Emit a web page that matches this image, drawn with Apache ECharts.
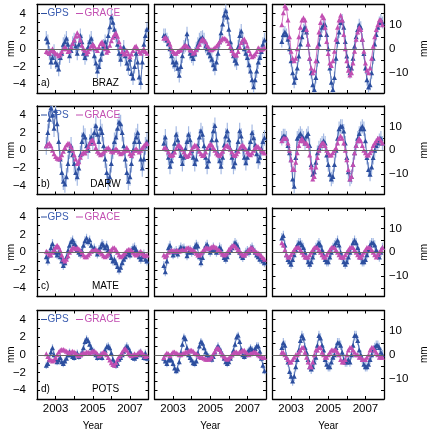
<!DOCTYPE html>
<html>
<head>
<meta charset="utf-8">
<script src="https://cdn.jsdelivr.net/npm/echarts@6/dist/echarts.min.js"></script>
<style>
  html, body { margin: 0; padding: 0; background: #fff; }
  #chart { width: 432px; height: 433px; }
</style>
</head>
<body>
<div id="chart"></div>
<script>
const stations = ["BRAZ", "DARW", "MATE", "POTS"];
const panelTags = ["a)", "b)", "c)", "d)"];
const yearTicks = [2003, 2004, 2005, 2006, 2007];
const yearLabels = [2003, 2005, 2007];
const mmTicks = [-4, -3, -2, -1, 0, 1, 2, 3, 4];
const mmLabels = [-4, -2, 0, 2, 4];
const upTicks = [-15, -10, -5, 0, 5, 10, 15];
const upLabels = [-10, 0, 10];

// monthly samples starting mid 2002, mm
const startYear = 2002.5;
const stepYear = 1 / 12;

const brazGps1 = [1.2,0.8,-0.5,-1.5,-1.0,-0.3, -1.5,-1.8,-2.3,-1.0,-0.5,0.5,0.8,1.2,0.5,-0.8,-0.2,0.6, 1.0,0.3,-0.5,0.5,1.5,0.8,-0.5,-1.0,-0.6,0.2,0.8,1.2, 0.5,-0.8,-1.6,-2.5,-2.0,-1.2,-0.5,0.3,0.8,0.2,1.5,2.5, 3.6,3.0,2.2,1.5,0.5,-0.5,-1.2,-0.5,0.2,-0.8,-1.6,-2.2, -1.2,-2.8,-3.3,-2.0,-0.5,-1.5,-3.2,-3.8,-1.5,0.5,1.5,2.2];
const brazGrace1 = [-0.3,-0.4,-0.5,-0.2,0.0,-0.3, -0.5,-0.6,-0.8,-0.6,-0.3,0.0,0.2,0.0,-0.3,-0.2,0.2,0.6, 1.0,1.4,1.8,1.5,1.0,0.4,0.0,-0.2,-0.5,-0.3,0.0,0.3, 0.5,0.3,0.0,-0.2,0.2,0.6,0.8,0.5,0.0,-0.4,-0.2,0.4, 0.9,1.3,1.6,1.8,1.4,0.8,0.2,-0.3,-0.6,-0.5,-0.2,-0.6, -0.9,-0.6,-0.2,0.2,0.3,0.0,-0.3,-0.5,-0.2,0.0,-0.3,-0.5];
const brazGps2 = [1.5,1.5,1.0,0.6,0.0,-0.8, -1.5,-1.8,-1.5,-2.2,-3.0,-2.0,-0.8,0.2,0.4,1.7,0.3,-0.5, -0.8,-1.1,-0.6,0.0,0.5,1.0,1.2,1.3,1.0,0.3,0.0,-0.4, -0.8,-1.2,-1.8,-2.2,-1.5,-0.5,0.8,1.8,2.8,3.8,4.3,3.6, 2.2,0.8,0.0,-0.8,-1.3,-1.6,0.2,1.5,2.0,1.0,0.0,-0.5, -1.0,-1.8,-2.5,-3.5,-4.3,-3.5,-2.5,-1.5,-1.0,-0.3,0.5,1.0];
const brazGrace2 = [1.2,1.3,1.2,0.9,0.5,0.0, -0.3,-0.5,-0.5,-0.3,-0.2,-0.1,0.1,0.3,0.4,0.3,0.1,-0.1, -0.2,-0.5,-0.4,-0.1,0.2,0.5,0.9,1.1,1.0,0.8,0.4,0.1, -0.1,-0.1,0.0,0.1,0.3,0.5,0.8,1.0,1.2,1.2,1.1,0.9, 0.6,0.2,-0.2,-0.5,-0.7,-0.7,-0.3,0.2,0.7,1.0,1.1,0.8, 0.3,-0.2,-0.6,-0.9,-0.8,-0.6,-0.3,0.1,0.0,-0.1,0.0,0.1];
const brazGps3 = [3,6,7,6,4,0, -5,-10,-14,-12,-8,-3,2,5,8,9,7,2, -4,-10,-15,-17,-12,-5,2,6,9,10,10,6, 0,-8,-14,-17,-12,-4,3,7,11,12,9,3, -3,-7,-10,-8,-4,1,5,8,10,9,4,-2, -8,-13,-16,-15,-10,-4,2,6,9,11,12,11];
const brazGrace3 = [10,15,18,17,12,5, -1,-4,-5,-4,0,5,9,12,13,12,8,2, -4,-8,-10,-9,-5,1,7,11,14,13,9,3, -2,-6,-7,-5,-1,4,9,12,14,12,6,0, -5,-9,-11,-10,-6,-1,4,7,9,8,4,-1, -6,-9,-10,-8,-4,1,5,8,10,12,12,10];

const darwGps1 = [0.5,2.0,3.5,4.8,4.0,2.5, 4.5,3.0,1.0,-1.0,-2.5,-3.5,-3.8,-3.0,-1.5,0.0,0.5,-0.5, -1.5,-2.5,-3.0,-2.0,-0.5,1.0,1.8,1.5,0.5,0.0,0.8,1.5, 1.0,2.0,2.8,1.8,1.0,2.5,2.0,0.5,-1.0,-2.5,-3.5,-3.0, -1.5,0.0,1.0,1.5,2.5,3.2,3.0,2.0,0.5,-1.0,-2.5,-3.5, -3.0,-1.5,0.0,1.0,1.5,2.0,1.0,-1.0,-2.0,-1.0,0.5,1.0];
const darwGrace1 = [0.5,0.7,0.8,0.5,0.0,-0.4, -0.7,-0.9,-1.0,-0.8,-0.5,-0.1,0.3,0.6,0.8,0.7,0.4,0.0, -0.5,-1.0,-1.5,-1.3,-0.8,-0.4,-0.2,-0.3,0.0,0.4,0.8,1.1, 1.2,0.8,0.3,-0.1,-0.3,-0.5,-0.4,-0.2,0.0,0.2,0.3,0.1, -0.1,-0.2,0.0,0.2,0.0,-0.2,-0.4,-0.3,-0.1,0.0,0.3,0.0, -0.4,-0.6,-0.3,0.0,0.2,0.0,-0.2,0.0,0.3,0.5,0.7,0.8];
const darwGps2 = [0.8,1.5,0.2,-0.8,-1.8,-1.2, -0.2,0.8,1.8,1.2,0.2,-0.6,-1.5,-0.8,0.2,1.0,1.8,1.2, 0.0,-0.8,-1.5,-1.0,0.5,1.5,2.2,1.8,0.5,-0.8,-1.8,-1.2, 0.2,1.2,2.2,2.8,1.2,-0.4,-1.2,-1.8,-0.8,0.6,1.6,2.2, 1.2,0.2,-0.8,-1.8,-1.4,0.0,1.0,2.2,1.6,0.2,-0.8,-1.4, -0.8,0.2,1.0,2.0,1.4,0.6,-0.4,-1.2,-0.8,0.2,1.0,1.4];
const darwGrace2 = [0.2,0.3,0.1,-0.2,-0.5,-0.6, -0.5,-0.2,0.2,0.5,0.6,0.4,0.1,-0.2,-0.5,-0.7,-0.6,-0.3, 0.1,0.4,0.6,0.5,0.2,-0.1,-0.4,-0.6,-0.5,-0.2,0.2,0.5, 0.7,0.6,0.3,0.0,-0.3,-0.5,-0.6,-0.4,-0.1,0.2,0.5,0.6, 0.4,0.1,-0.2,-0.5,-0.6,-0.4,-0.1,0.2,0.5,0.6,0.4,0.1, -0.2,-0.4,-0.5,-0.3,0.0,0.3,0.5,0.4,0.2,0.0,-0.2,-0.3];
const darwGps3 = [5,6,6,5,2,-1, -4,-12,-15,-3,5,6,7,6,5,3,6,7, 2,-6,-10,-9,-5,-1,1,2,3,4,3,-2, -6,-10,-12,-11,-6,0,5,9,10,10,8,3, -3,-9,-12,-11,-6,-1,2,5,7,9,10,9, 4,-3,-8,-10,-7,-3,0,2,3,4,5,3];
const darwGrace3 = [4,5,5,5,3,0, -4,-8,-8,-5,-1,2,4,5,4,3,3,2, -2,-7,-12,-11,-7,-3,0,2,3,3,2,0, -1,-2,-2,-1,0,1,3,5,6,5,3,0, -4,-8,-12,-11,-6,-1,2,4,5,4,2,0, -1,-2,-2,-1,0,2,3,4,5,5,4,3];

const mateGps1 = [-0.5,-1.0,-0.3,0.5,1.0,0.3, 0.0,-0.3,0.0,-0.5,-1.0,-1.5,-1.2,-0.5,0.2,0.8,1.2,1.4, 1.0,0.8,0.3,0.0,-0.2,0.2,0.8,1.3,1.6,1.2,1.4,0.8, 0.3,0.5,0.2,-0.2,0.3,0.6,1.0,0.8,0.5,0.8,0.3,-0.2, -0.6,-1.0,-0.8,-1.2,-1.6,-2.0,-1.7,-1.2,-0.8,-0.5,-0.2,0.0, -0.3,0.2,0.5,0.6,0.3,-0.2,-0.5,-0.8,-0.5,-0.2,-0.8,-1.0];
const mateGrace1 = [0.1,0.0,-0.2,-0.3,0.0,0.3, 0.6,0.8,0.6,0.2,-0.3,-0.8,-1.0,-0.8,-0.4,0.0,0.3,0.5, 0.5,0.4,0.5,0.4,0.2,0.0,-0.3,-0.5,-0.5,-0.3,-0.1,0.1, 0.2,0.2,0.3,0.2,0.1,0.0,-0.2,-0.4,-0.5,-0.4,-0.2,0.1, 0.3,0.5,0.5,0.3,0.0,-0.3,-0.5,-0.4,-0.2,0.0,0.2,0.3, 0.3,0.2,0.0,-0.2,-0.3,-0.2,0.0,0.1,-0.1,-0.3,-0.4,-0.3];
const mateGps2 = [-1.5,-2.2,-1.0,0.5,0.8,0.2, -0.3,0.0,0.2,-0.2,0.3,0.6,0.4,0.5,0.2,-0.4,0.0,0.3, 0.0,0.2,0.6,0.9,0.7,-0.5,-1.2,-0.6,0.2,0.7,0.9,0.4, 0.0,0.3,0.6,0.3,0.0,0.2,0.6,0.4,-0.2,-0.6,-0.8,-0.5, 0.0,0.3,0.5,0.8,1.1,0.9,0.6,0.0,-0.4,-0.6,-0.3,0.0, 0.2,0.0,0.4,0.6,0.3,0.0,-0.3,-0.5,-0.8,-0.6,-1.0,-1.2];
const mateGrace2 = [-0.3,-0.5,-0.3,0.0,0.1,0.2, 0.2,0.1,0.2,0.2,0.1,0.2,0.3,0.2,0.3,0.5,0.5,0.4, 0.3,0.2,0.1,-0.1,-0.3,-0.3,-0.1,0.1,0.3,0.5,0.5,0.4, 0.5,0.6,0.7,0.6,0.5,0.3,0.2,0.0,-0.2,-0.3,-0.2,0.0, 0.3,0.5,0.7,0.8,0.7,0.5,0.3,0.1,-0.1,-0.3,-0.3,-0.1, 0.1,0.3,0.5,0.5,0.3,0.1,0.0,-0.1,-0.2,-0.4,-0.6,-0.8];
const mateGps3 = [6,7,3,-1,-3,-4, -5,-3,-1,1,3,4,4,3,2,0,-2,-4, -5,-4,-2,0,2,3,4,3,1,-1,-3,-4, -4,-2,0,2,3,4,5,3,0,-2,-4,-5, -4,-2,0,2,4,5,4,2,0,-2,-4,-4, -3,-1,1,3,4,4,3,1,-1,-2,0,2];
const mateGrace3 = [4,3,1,-1,-2,-2, -1,0,1,2,2,2,1,0,-1,-2,-2,-2, -1,0,1,2,2,2,1,0,-1,-2,-2,-1, 0,1,2,2,2,1,0,-1,-2,-2,-2,-1, 0,1,2,2,2,1,0,-1,-2,-2,-1,0, 1,2,2,2,1,0,-1,-2,-1,0,1,2];

const potsGps1 = [-1.2,-1.0,-0.5,0.3,0.8,0.0, -0.5,-0.8,-0.6,-0.3,-0.8,-1.0,-0.7,-0.4,0.0,0.3,0.0,-0.2, -0.3,0.0,0.2,-0.2,0.0,0.2,0.8,1.5,1.8,1.6,1.2,0.8, 0.5,0.3,0.0,-0.3,-0.2,0.0,-0.3,0.2,0.5,0.9,1.0,0.8, 0.2,-0.5,-0.9,-1.2,-1.0,-0.5,-0.3,0.0,0.4,0.8,1.0,0.8, 0.4,0.0,-0.3,-0.4,-0.2,0.0,0.2,0.3,0.0,-0.3,0.2,-0.4];
const potsGrace1 = [0.1,-0.2,-0.5,-0.6,-0.7,-0.6, -0.3,0.0,0.3,0.5,0.6,0.6,0.5,0.4,0.3,0.2,0.3,0.4, 0.3,0.2,0.0,-0.1,0.0,0.1,0.2,0.2,0.3,0.3,0.2,0.3, 0.4,0.4,0.3,0.1,-0.1,0.0,0.2,0.3,0.2,0.0,-0.3,-0.6, -0.9,-1.1,-1.2,-0.9,-0.5,-0.2,0.0,0.3,0.6,0.7,0.5,0.2, 0.0,-0.1,0.0,0.1,0.0,0.1,0.3,0.4,0.2,0.0,-0.2,-0.1];
const potsGps2 = [-0.4,-0.7,-1.0,-0.6,-0.4,-0.6, -1.0,-1.5,-1.8,-1.6,-0.8,0.2,1.2,2.0,1.8,0.8,0.0,-0.3, -0.6,-0.9,-1.0,-0.7,0.2,1.0,1.5,1.3,0.8,0.3,0.0,-0.2, -0.4,-0.5,-0.2,0.3,0.7,1.0,0.7,0.4,0.0,-0.4,-0.8,-1.0, -0.8,-0.4,0.0,0.5,1.2,2.0,2.2,1.5,0.6,0.0,-0.2,0.0, 0.3,0.5,0.8,0.6,0.4,0.7,1.0,1.0,0.4,-0.4,-1.2,-1.8];
const potsGrace2 = [-0.3,0.0,0.2,0.1,-0.1,0.1, 0.3,0.3,0.2,0.1,0.0,0.0,0.1,0.2,0.3,0.3,0.4,0.5, 0.5,0.4,0.2,0.1,0.0,-0.2,-0.3,-0.3,-0.4,-0.5,-0.5,-0.5, -0.4,-0.2,0.1,0.4,0.7,0.8,0.6,0.3,0.0,-0.2,-0.4,-0.5, -0.4,-0.2,0.0,0.2,0.3,0.3,0.2,0.3,0.4,0.5,0.5,0.3, 0.1,0.0,0.1,0.2,0.3,0.3,0.2,0.0,-0.1,-0.2,-0.3,-0.3];
const potsGps3 = [3,5,4,-1,-3,-7, -9,-11,-9,-5,-2,2,6,8,7,3,1,-2, -5,-6,-5,-3,-1,4,8,7,4,2,-2,-4, -5,-5,-3,-1,0,3,5,5,4,1,-2,-3, -3,-2,-3,0,4,8,8,6,2,0,-2,-4, -5,-5,-4,-2,0,2,3,4,4,3,1,0];
const potsGrace3 = [1,1,0,-1,-2,-3, -3,-2,-1,0,0,1,2,3,3,1,-1,-3, -5,-5,-3,0,2,2,3,3,1,0,-1,-1, 0,1,2,2,2,2,1,0,-2,-3,-3,-2, 0,2,3,3,2,1,0,0,-1,-1,-2,-2, -2,-1,0,2,3,3,2,1,0,-1,-1,-1];

// typical GPS error bar half-length, mm
const gpsErr = [
  [0.8, 0.8, 2.5],
  [1.0, 0.9, 3.0],
  [0.5, 0.5, 2.0],
  [0.4, 0.4, 2.0],
];

const gpsRows = [
  [brazGps1, brazGps2, brazGps3],
  [darwGps1, darwGps2, darwGps3],
  [mateGps1, mateGps2, mateGps3],
  [potsGps1, potsGps2, potsGps3],
];
const graceRows = [
  [brazGrace1, brazGrace2, brazGrace3],
  [darwGrace1, darwGrace2, darwGrace3],
  [mateGrace1, mateGrace2, mateGrace3],
  [potsGrace1, potsGrace2, potsGrace3],
];

const font = "'Liberation Sans', Arial, sans-serif";
const blue = "#2d4f9f";
const errBlue = "#a6bbe4";
const magenta = "#c24fb2";

const colLeft = [37, 154.5, 272.5];
const rowTop = [4.5, 106, 208, 310.5];
const panelW = 111.5;
const panelH = 88.5;

const minus = (v) => String(v).replace("-", "\u2212");
const toPoints = (vals) => vals.map((v, i) => [startYear + i * stepYear, v]);

const grids = [];
const xAxes = [];
const yAxes = [];
const series = [];
const graphics = [];

const axisLine = { show: true, onZero: false, lineStyle: { color: "#000", width: 1.3 } };

rowTop.forEach((top, r) => {
  colLeft.forEach((left, c) => {
    const g = grids.length;
    grids.push({ left: left, top: top, width: panelW, height: panelH });

    const up = c === 2;
    const yRange = up ? { min: -18.5, max: 18.5 } : { min: -5, max: 5 };
    const yTicks = up ? upTicks : mmTicks;
    const yLabs = up ? upLabels : mmLabels;

    ["bottom", "top"].forEach((pos) => {
      xAxes.push({
        gridIndex: g,
        type: "value",
        position: pos,
        min: 2002,
        max: 2008,
        axisLine: axisLine,
        splitLine: { show: false },
        axisTick: {
          show: true, inside: true, length: 3,
          customValues: yearTicks,
          lineStyle: { color: "#000", width: 1 },
        },
        axisLabel: {
          show: pos === "bottom" && r === 3,
          customValues: yearLabels,
          formatter: (v) => String(v),
          color: "#000", fontSize: 11.5, fontFamily: font, margin: 4,
        },
      });
    });

    ["left", "right"].forEach((pos) => {
      const showLab = (pos === "left" && c === 0) || (pos === "right" && c === 2);
      yAxes.push({
        gridIndex: g,
        type: "value",
        position: pos,
        min: yRange.min,
        max: yRange.max,
        axisLine: axisLine,
        splitLine: { show: false },
        axisTick: {
          show: true, inside: true, length: 3,
          customValues: yTicks,
          lineStyle: { color: "#000", width: 1 },
        },
        axisLabel: {
          show: showLab,
          customValues: yLabs,
          formatter: minus,
          color: "#000", fontSize: 11.5, fontFamily: font,
          margin: pos === "left" ? 11 : 5,
        },
      });
    });

    const xi = g * 2;
    const yi = g * 2;
    const gps = gpsRows[r][c];
    const err = gpsErr[r][c];

    // error bars + zero line
    series.push({
      type: "custom",
      xAxisIndex: xi,
      yAxisIndex: yi,
      clip: true,
      z: 1,
      silent: true,
      data: gps.map((v, i) => [startYear + i * stepYear, v, err]),
      renderItem: (params, api) => {
        const x = api.value(0);
        const y = api.value(1);
        const e = api.value(2);
        const a = api.coord([x, y - e]);
        const b = api.coord([x, y + e]);
        return {
          type: "line",
          shape: { x1: a[0], y1: a[1], x2: b[0], y2: b[1] },
          style: { stroke: errBlue, lineWidth: 1.2 },
        };
      },
      markLine: {
        silent: true,
        symbol: "none",
        label: { show: false },
        lineStyle: { color: "#666", width: 1, type: "solid" },
        data: [{ yAxis: 0 }],
      },
    });

    series.push({
      type: "line",
      name: "GPS",
      xAxisIndex: xi,
      yAxisIndex: yi,
      z: 2,
      data: toPoints(gps),
      symbol: "triangle",
      symbolSize: 5,
      itemStyle: { color: blue },
      lineStyle: { color: blue, width: 0.8 },
    });

    series.push({
      type: "line",
      name: "GRACE",
      xAxisIndex: xi,
      yAxisIndex: yi,
      z: 3,
      data: toPoints(graceRows[r][c]),
      symbol: "triangle",
      symbolSize: 5,
      itemStyle: { color: magenta },
      lineStyle: { color: magenta, width: 0.8 },
    });
  });

  // text inside the first panel of each row
  const midY = top + panelH / 2;
  const legY = top + 9;
  graphics.push(
    { type: "line", z: 10, shape: { x1: 41, y1: legY, x2: 47, y2: legY }, style: { stroke: blue, lineWidth: 1 } },
    { type: "text", z: 10, x: 47.5, y: legY, style: { text: "GPS", fill: "#3a5cb0", font: "10px " + font, verticalAlign: "middle" } },
    { type: "line", z: 10, shape: { x1: 76, y1: legY, x2: 83, y2: legY }, style: { stroke: magenta, lineWidth: 1 } },
    { type: "text", z: 10, x: 84.5, y: legY, style: { text: "GRACE", fill: magenta, font: "10px " + font, verticalAlign: "middle" } },
    { type: "text", z: 10, x: 41, y: top + panelH - 10, style: { text: panelTags[r], fill: "#000", font: "10px " + font, verticalAlign: "middle" } },
    { type: "text", z: 10, x: 105.5, y: top + panelH - 10, style: { text: stations[r], fill: "#000", font: "10px " + font, align: "center", verticalAlign: "middle" } },
    { type: "text", z: 10, x: 11, y: midY, rotation: Math.PI / 2, style: { text: "mm", fill: "#000", font: "10px " + font, align: "center", verticalAlign: "middle" } },
  );
  graphics.push({ type: "text", z: 10, x: 424, y: midY, rotation: Math.PI / 2, style: { text: "mm", fill: "#000", font: "10px " + font, align: "center", verticalAlign: "middle" } });
});

colLeft.forEach((left) => {
  graphics.push({ type: "text", z: 10, x: left + panelW / 2, y: 426, style: { text: "Year", fill: "#000", font: "10px " + font, align: "center", verticalAlign: "middle" } });
});

const chart = echarts.init(document.getElementById("chart"), null, { renderer: "canvas" });
chart.setOption({
  animation: false,
  backgroundColor: "#fff",
  grid: grids,
  xAxis: xAxes,
  yAxis: yAxes,
  series: series,
  graphic: { elements: graphics },
});
</script>
</body>
</html>
